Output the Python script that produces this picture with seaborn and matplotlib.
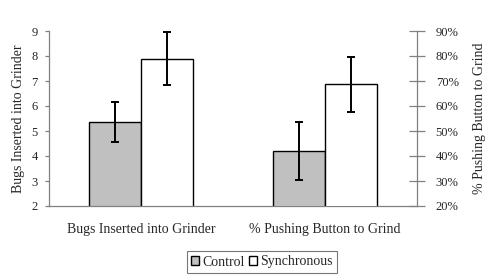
import matplotlib
matplotlib.use("Agg")
import matplotlib.pyplot as plt
import matplotlib.ticker as ticker
from matplotlib.patches import Patch
import seaborn as sns
import pandas as pd

# datos
categories = ["Bugs Inserted into Grinder", "% Pushing Button to Grind"]
conditions = ["Control", "Synchronous"]
bug_means = [5.37, 7.9]
bug_errs = [0.8, 1.06]
pct_means = [42.2, 68.8]
pct_errs = [11.6, 11.0]
colors = ["#c0c0c0", "#ffffff"]

sns.set_style("white")
plt.rcParams["font.family"] = ["Liberation Serif", "DejaVu Serif"]

fig = plt.figure(figsize=(4.94, 2.75), dpi=100)
ax = fig.add_axes([49 / 494, 1 - 206 / 275, 368 / 494, 175 / 275])
ax2 = ax.twinx()

df_bugs = pd.DataFrame({"measure": [categories[0]] * 2, "condition": conditions, "value": bug_means})
df_pct = pd.DataFrame({"measure": [categories[1]] * 2, "condition": conditions, "value": pct_means})

for a, df, errs in [(ax, df_bugs, bug_errs), (ax2, df_pct, pct_errs)]:
    sns.barplot(data=df, x="measure", y="value", hue="condition", order=categories,
                hue_order=conditions, palette=colors, width=0.57, edgecolor="black",
                linewidth=1.0, errorbar=None, legend=False, ax=a)
    bars = sorted(a.patches, key=lambda p: p.get_x())
    xs = [p.get_x() + p.get_width() / 2 for p in bars]
    a.errorbar(xs, [p.get_height() for p in bars], yerr=errs, fmt="none",
               ecolor="black", elinewidth=1.4, capsize=3.2, capthick=1.4, zorder=5)

ax.set_xlim(-0.5, 1.5)
ax.set_ylim(2, 9)
ax2.set_ylim(20, 90)
ax2.yaxis.set_major_formatter(ticker.PercentFormatter(xmax=100, decimals=0))
ax.set_yticks(range(2, 10))
ax2.set_yticks(range(20, 100, 10))

ax.set_xlabel("")
ax.set_ylabel("Bugs Inserted into Grinder", fontsize=10, labelpad=5)
ax2.set_ylabel("% Pushing Button to Grind", fontsize=10, labelpad=10)
ax2.set_xlabel("")

ax.set_xticks([0, 1])
ax.set_xticklabels(categories, fontsize=10)
ax.set_xticks([-0.5, 0.5, 1.5], minor=True)
ax.tick_params(axis="x", which="major", length=0, pad=12)
ax.tick_params(axis="x", which="minor", length=3.6, width=0.9, color="#808080", direction="out")
ax.tick_params(axis="y", length=3, width=0.9, color="#808080", labelsize=9, pad=5, left=True)
ax2.tick_params(axis="y", length=11, width=0.9, color="#808080", direction="inout", labelsize=9, pad=8, right=True)

for a in [ax, ax2]:
    for s in a.spines.values():
        s.set_visible(False)
        s.set_color("#808080")
        s.set_linewidth(0.9)
ax.spines["left"].set_visible(True)
ax.spines["bottom"].set_visible(True)
ax2.spines["right"].set_visible(True)

handles = [Patch(facecolor=c, edgecolor="black", linewidth=1.0, label=l) for c, l in zip(colors, conditions)]
leg = fig.legend(handles=handles, loc="center", bbox_to_anchor=(262 / 494, 1 - 262 / 275), ncol=2,
                 fontsize=10, frameon=True, fancybox=False, handlelength=0.55, handleheight=0.55,
                 handletextpad=0.25, columnspacing=0.3, borderpad=0.35, borderaxespad=0)
leg.get_frame().set_edgecolor("#555555")
leg.get_frame().set_linewidth(0.8)

fig.savefig("out.png", dpi=100)
